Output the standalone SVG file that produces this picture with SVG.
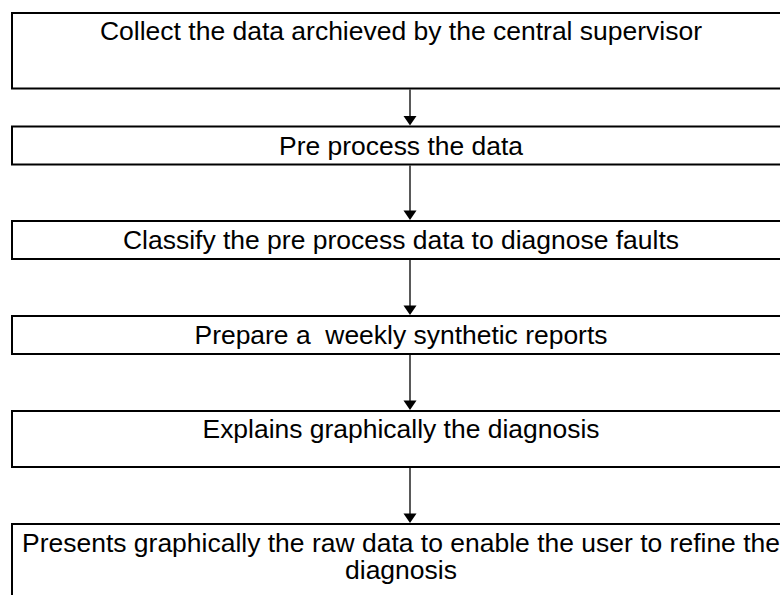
<svg xmlns="http://www.w3.org/2000/svg" width="780" height="595" viewBox="0 0 780 595">
<style>
.box{fill:#fff;stroke:#000;stroke-width:2}
.t{font-family:"Liberation Sans",Arial,sans-serif;font-size:25px;fill:#000;text-anchor:middle}
.c{stroke:#000;stroke-width:1.3;fill:none}
.h{fill:#000}
</style>
<rect width="780" height="595" fill="#fff"/>
<g id="n1"><rect class="box" x="12" y="13" width="800" height="75.5"/><text class="t" x="401" y="40" textLength="602" lengthAdjust="spacingAndGlyphs">Collect the data archieved by the central supervisor</text></g>
<g id="n2"><rect class="box" x="12" y="126.5" width="800" height="38"/><text class="t" x="401" y="154.5" textLength="244" lengthAdjust="spacingAndGlyphs">Pre process the data</text></g>
<g id="n3"><rect class="box" x="12" y="221" width="800" height="38"/><text class="t" x="401" y="249" textLength="556" lengthAdjust="spacingAndGlyphs">Classify the pre process data to diagnose faults</text></g>
<g id="n4"><rect class="box" x="12" y="316" width="800" height="38"/><text class="t" x="401" y="343.5" textLength="413" lengthAdjust="spacingAndGlyphs" xml:space="preserve">Prepare a  weekly synthetic reports</text></g>
<g id="n5"><rect class="box" x="12" y="411" width="800" height="56"/><text class="t" x="401" y="438" textLength="397" lengthAdjust="spacingAndGlyphs">Explains graphically the diagnosis</text></g>
<g id="n6"><rect class="box" x="12" y="524" width="800" height="90"/><text class="t" x="401" y="551.7" textLength="758" lengthAdjust="spacingAndGlyphs">Presents graphically the raw data to enable the user to refine the</text><text class="t" x="401" y="579" textLength="112" lengthAdjust="spacingAndGlyphs">diagnosis</text></g>
<g id="connectors">
<line class="c" x1="410" y1="89.5" x2="410" y2="117"/><polygon class="h" points="403.5,116 416.5,116 410,125.5"/>
<line class="c" x1="410" y1="165.5" x2="410" y2="212"/><polygon class="h" points="403.5,210.5 416.5,210.5 410,220"/>
<line class="c" x1="410" y1="260" x2="410" y2="307"/><polygon class="h" points="403.5,305.5 416.5,305.5 410,315"/>
<line class="c" x1="410" y1="355" x2="410" y2="402"/><polygon class="h" points="403.5,400.5 416.5,400.5 410,410"/>
<line class="c" x1="410" y1="468" x2="410" y2="515"/><polygon class="h" points="403.5,513.5 416.5,513.5 410,523"/>
</g>
</svg>
